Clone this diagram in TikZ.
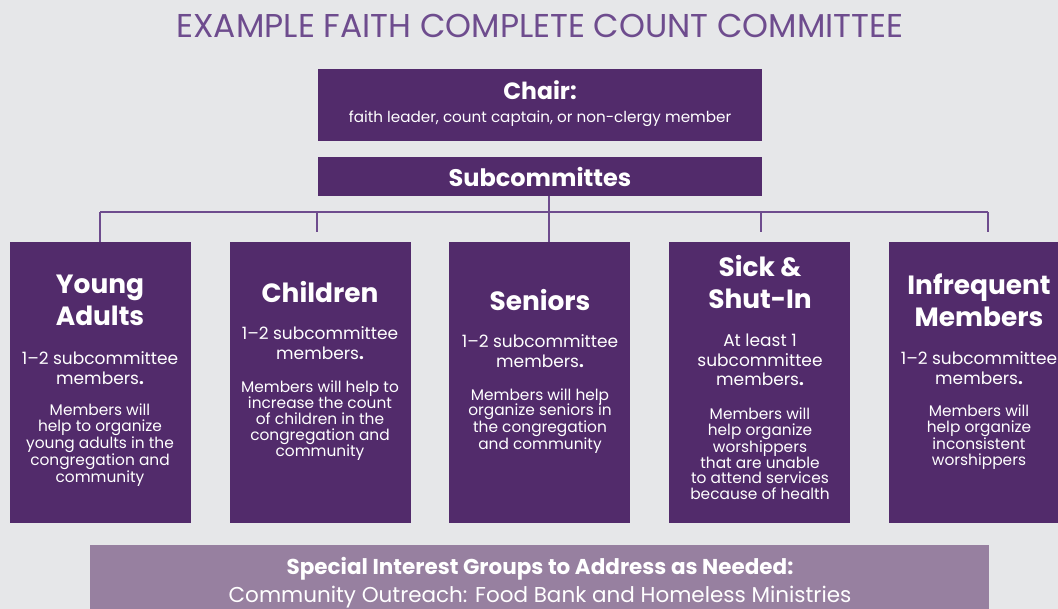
\documentclass[tikz,border=0pt]{standalone}
\usepackage{fontspec}
\setmainfont{Poppins}
\usetikzlibrary{positioning}
\definecolor{bg}{HTML}{E6E7E9}
\definecolor{dpurple}{HTML}{522B6B}
\definecolor{tpurple}{HTML}{6E4C8E}
\definecolor{lpurple}{HTML}{9780A0}
\begin{document}
\begin{tikzpicture}[x=1pt,y=-1pt,
  box/.style={fill=dpurple, draw=none, inner sep=0pt, anchor=north west},
  ttl/.style={text=white, align=center, font=\fontsize{26.4}{32}\selectfont\bfseries},
  cnt/.style={text=white, align=center, font=\fontsize{17}{19.5}\selectfont},
  dsc/.style={text=white, align=center, font=\fontsize{15.4}{15.75}\selectfont},
  conn/.style={draw=tpurple, line width=2pt}]
\fill[bg] (0,0) rectangle (1058,609);
\useasboundingbox (0,0) rectangle (1058,609);
\node[text=tpurple, font=\fontsize{33}{36}\selectfont] (title) at (540,26) {EXAMPLE FAITH COMPLETE COUNT COMMITTEE};
% chair
\node[box, minimum width=444pt, minimum height=72pt] (chair) at (318,69) {};
\node[text=white, font=\fontsize{23.5}{26}\selectfont\bfseries] (chairt) at (540,90) {Chair:};
\node[text=white, font=\fontsize{15.2}{17}\selectfont] (chairs) at (540,119) {faith leader, count captain, or non-clergy member};
% subcommittees
\node[box, minimum width=444pt, minimum height=39pt] (sub) at (318,157) {};
\node[text=white, font=\fontsize{24}{26}\selectfont\bfseries] (subt) at (540,177) {Subcommittes};
% boxes
\foreach \n/\x in {ya/10, ch/230, se/449, si/669, in/889}
  \node[box, minimum width=181pt, minimum height=281pt] (\n) at (\x,242) {};
% connectors
\coordinate (hub) at (549,212);
\coordinate (l1) at (100,212);
\coordinate (l5) at (988,212);
\draw[conn] (sub.south -| hub) -- (hub);
\draw[conn] (l1) -- (l5);
\draw[conn] (l1) -- (l1 |- ya.north);
\draw[conn] (317,212) -- (317,232);
\draw[conn] (hub) -- (hub |- se.north);
\draw[conn] (761,212) -- (761,232);
\draw[conn] (l5) -- (988,232);
% Young adults
\node[ttl] (yat) at (100,300) {Young\\Adults};
\node[cnt] (yac) at (100,368) {1–2 subcommittee\\members\textbf{.}};
\node[dsc] (yad) at (100,445) {Members will\\help to organize\\young adults in the\\congregation and\\community};
% Children
\node[ttl] (cht) at (320,292) {Children};
\node[cnt] (chc) at (320,343) {1–2 subcommittee\\members\textbf{.}};
\node[dsc] (chd) at (320,421) {Members will help to\\increase the count\\of children in the\\congregation and\\community};
% Seniors
\node[ttl] (set) at (540,300) {Seniors};
\node[cnt] (sec) at (540,351) {1–2 subcommittee\\members\textbf{.}};
\node[dsc] (sed) at (540,421) {Members will help\\organize seniors in\\the congregation\\and community};
% Sick
\node[ttl] (sit) at (760,282) {Sick \&\\Shut-In};
\node[cnt] (sic) at (760,360) {At least 1\\subcommittee\\members\textbf{.}};
\node[dsc] (sid) at (760,454) {Members will\\help organize\\worshippers\\that are unable\\to attend services\\because of health};
% Infrequent
\node[ttl] (int) at (979,300) {Infrequent\\Members};
\node[cnt] (inc) at (979,368) {1–2 subcommittee\\members\textbf{.}};
\node[dsc] (ind) at (979,437) {Members will\\help organize\\inconsistent\\worshippers};
% bottom
\node[box, fill=lpurple, minimum width=899pt, minimum height=70pt] (spec) at (90,545) {};
\node[text=white, font=\fontsize{21.5}{23}\selectfont\bfseries] (spect) at (540,569) {Special Interest Groups to Address as Needed:};
\node[text=white, font=\fontsize{21.5}{23}\selectfont] (specs) at (540,597) {Community Outreach: Food Bank and Homeless Ministries};
\end{tikzpicture}
\end{document}
